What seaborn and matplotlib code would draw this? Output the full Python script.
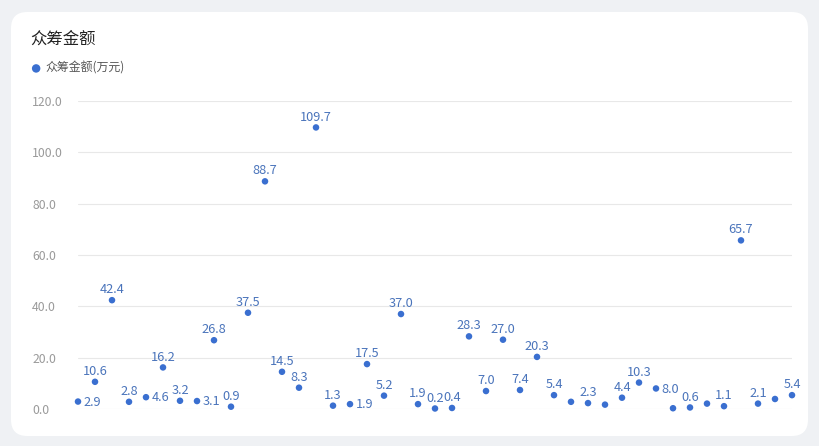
import numpy as np
import pandas as pd
import matplotlib.pyplot as plt
import seaborn as sns
from matplotlib.patches import FancyBboxPatch

# crowdfunding amounts (10k yuan), one point per project
amounts = [2.9, 10.6, 42.4, 2.8, 4.6, 16.2, 3.2, 3.1, 26.8, 0.9,
           37.5, 88.7, 14.5, 8.3, 109.7, 1.3, 1.9, 17.5, 5.2, 37.0,
           1.9, 0.2, 0.4, 28.3, 7.0, 27.0, 7.4, 20.3, 5.4, 2.8,
           2.3, 1.7, 4.4, 10.3, 8.0, 0.3, 0.6, 2.1, 1.1, 65.7,
           2.1, 3.9, 5.4]
yticks = [0, 20, 40, 60, 80, 100, 120]
series_name = '众筹金额(万元)'
title = '众筹金额'

# where each value label sits (echarts moved/hid overlapping ones)
label_pos = ['right', 'top', 'top', 'top', 'right', 'top', 'top', 'right', 'top', 'top',
             'top', 'top', 'top', 'top', 'top', 'top', 'right', 'top', 'top', 'top',
             'top', 'top', 'top', 'top', 'top', 'top', 'top', 'top', 'top', None,
             'top', None, 'top', 'top', 'right', None, 'top', None, 'top', 'top',
             'top', None, 'top']

data = pd.DataFrame({'idx': np.arange(len(amounts)), 'amount': amounts})

sns.set_theme(style='white')
plt.rcParams['font.family'] = ['Noto Sans CJK SC', 'DejaVu Sans']

W, H = 819, 446
fig = plt.figure(figsize=(W / 100, H / 100), dpi=100)
fig.patch.set_facecolor('#eff1f4')

# white rounded card
card = FancyBboxPatch((11 / W, 10 / H), 797 / W, 424 / H,
                      boxstyle='round,pad=0,rounding_size=0.02',
                      transform=fig.transFigure, facecolor='white',
                      edgecolor='none', mutation_aspect=W / H, zorder=-1)
fig.patches.append(card)

ax = fig.add_axes([78 / W, (H - 409) / H, (792 - 78) / W, (409 - 101) / H])
ax.set_facecolor('none')

blue = '#3a6fd0'
sns.scatterplot(data=data, x='idx', y='amount', ax=ax, color=blue, s=22,
                edgecolor='none', label=series_name, clip_on=False, zorder=3)

ax.set_xlim(0, len(amounts) - 1)
ax.set_ylim(0, 120)
ax.set_yticks(yticks)
ax.set_yticklabels([f'{v:.1f}' for v in yticks], ha='left', color='#9a9a9a', fontsize=8.8)
ax.tick_params(axis='y', length=0, pad=33)
ax.set_xticks([])
ax.set_xlabel('')
ax.set_ylabel('')
for s in ax.spines.values():
    s.set_visible(False)
ax.grid(axis='y', color='#e8e8e8', linewidth=0.8)
ax.set_axisbelow(True)

for i, (v, pos) in enumerate(zip(amounts, label_pos)):
    if pos == 'top':
        ax.annotate(f'{v:.1f}', (i, v), xytext=(0, 7.5), textcoords='offset points',
                    ha='center', va='center', color='#4a74bb', fontsize=9.2)
    elif pos == 'right':
        ax.annotate(f'{v:.1f}', (i, v), xytext=(4, -0.5), textcoords='offset points',
                    ha='left', va='center', color='#4a74bb', fontsize=9.2)

fig.text(30 / W, 1 - 39 / H, title, fontsize=11.8, color='#222222', va='center', ha='left')
ax.legend(loc='center left', bbox_to_anchor=(23 / W, 1 - 68 / H), bbox_transform=fig.transFigure,
          frameon=False, fontsize=8.6, handletextpad=0.15, markerscale=1.3,
          labelcolor='#555555', borderpad=0, handlelength=1.2)

fig.savefig('out.png', dpi=100, facecolor=fig.get_facecolor())
